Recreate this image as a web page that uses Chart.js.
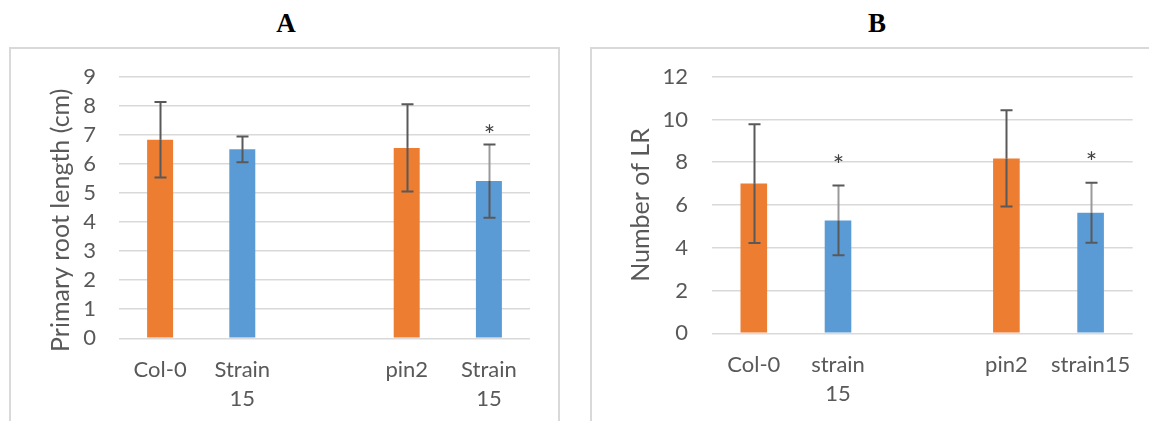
<!DOCTYPE html>
<html>
<head>
<meta charset="utf-8">
<title>Root length and lateral roots</title>
<script src="https://cdn.jsdelivr.net/npm/chart.js@4.4.0/dist/chart.umd.min.js"></script>
<style>
    html, body { margin: 0; padding: 0; background: #fff; }
    body { position: relative; width: 1149px; height: 421px; overflow: hidden; }
    .panel-title {
        position: absolute; top: 8px;
        font: bold 27px "Liberation Serif", "Times New Roman", serif;
        color: #000; transform: translateX(-50%);
    }
    .panel-box {
        position: absolute; top: 47px; height: 400px;
        border: 2px solid #d9d9d9;
    }
    canvas { position: absolute; top: 50px; }
</style>
</head>
<body>
<div class="panel-title" style="left:286px">A</div>
<div class="panel-title" style="left:877px">B</div>
<div class="panel-box" style="left:9px; width:547px"></div>
<div class="panel-box" style="left:590px; width:700px"></div>
<canvas id="chart-a" width="546" height="371" style="left:12px"></canvas>
<canvas id="chart-b" width="556" height="371" style="left:593px"></canvas>
<script>
// Panel A - primary root length
const categoriesA = ['Col-0', ['Strain', '15'], '', 'pin2', ['Strain', '15']];
const meansA = [6.83, 6.5, null, 6.55, 5.41];
const errorsA = [1.3, 0.44, null, 1.5, 1.26];
const starsA = [null, null, null, null, 7.17];

// Panel B - number of lateral roots
const categoriesB = ['Col-0', ['strain', '15'], '', 'pin2', 'strain15'];
const meansB = [7.0, 5.28, null, 8.18, 5.64];
const errorsB = [2.78, 1.63, null, 2.25, 1.4];
const starsB = [null, 8.1, null, null, 8.23];

const barColors = ['#ed7d31', '#5b9bd5', '#ed7d31', '#ed7d31', '#5b9bd5'];

const textColor = '#595959';
const gridColor = '#d9d9d9';

// Draws error bars and significance stars on top of the bars
const errorBarPlugin = {
    id: 'errorBars',
    afterDatasetsDraw(chart, args, opts) {
        const ctx = chart.ctx;
        const y = chart.scales.y;
        const meta = chart.getDatasetMeta(0);
        const means = chart.data.datasets[0].data;

        ctx.save();
        ctx.lineWidth = 2;
        meta.data.forEach(function(bar, i) {
            const v = means[i];
            const e = opts.errors[i];
            if (v == null) return;

            const xc = Math.round(bar.x) + 0.5;
            const yTop = y.getPixelForValue(v + e);
            const yBot = y.getPixelForValue(v - e);
            const yBar = y.getPixelForValue(v);

            // part above the bar is lighter where a star sits on it
            ctx.strokeStyle = opts.stars[i] != null ? '#9a9a9a' : '#595959';
            ctx.beginPath();
            ctx.moveTo(xc, yTop);
            ctx.lineTo(xc, yBar);
            ctx.stroke();

            ctx.strokeStyle = '#595959';
            ctx.beginPath();
            ctx.moveTo(xc, yBar);
            ctx.lineTo(xc, yBot);
            ctx.moveTo(xc - 6, yTop);
            ctx.lineTo(xc + 6, yTop);
            ctx.moveTo(xc - 6, yBot);
            ctx.lineTo(xc + 6, yBot);
            ctx.stroke();

            if (opts.stars[i] != null) {
                ctx.fillStyle = '#404040';
                ctx.font = '27px Lato, sans-serif';
                ctx.textAlign = 'center';
                ctx.textBaseline = 'alphabetic';
                ctx.fillText('*', xc, y.getPixelForValue(opts.stars[i]) + 15);
            }
        });
        ctx.restore();
    }
};

function buildChart(id, labels, means, errors, stars, cfg) {
    const ctx = document.getElementById(id).getContext('2d');
    return new Chart(ctx, {
        type: 'bar',
        data: {
            labels: labels,
            datasets: [{
                data: means,
                backgroundColor: barColors,
                borderWidth: 0,
                barPercentage: 0.316,
                categoryPercentage: 1
            }]
        },
        options: {
            responsive: false,
            animation: false,
            events: [],
            layout: {
                padding: { top: 26.7, right: cfg.padRight, bottom: 0, left: 0 }
            },
            scales: {
                x: {
                    grid: { display: false },
                    border: { display: false },
                    ticks: {
                        color: textColor,
                        font: { family: 'Lato', size: 22, lineHeight: 1.32 },
                        padding: 9,
                        maxRotation: 0,
                        autoSkip: false
                    },
                    afterFit: function(scale) {
                        scale.height = cfg.xHeight;
                        scale.paddingLeft = 0;
                        scale.paddingRight = 0;
                    }
                },
                y: {
                    min: 0,
                    max: cfg.max,
                    grid: { color: gridColor, lineWidth: 1.5, drawTicks: false },
                    border: { display: false },
                    ticks: {
                        stepSize: cfg.step,
                        autoSkip: false,
                        color: textColor,
                        font: { family: 'Lato', size: 22 },
                        padding: cfg.tickPad
                    },
                    title: {
                        display: true,
                        text: cfg.title,
                        color: textColor,
                        font: { family: 'Lato', size: 25 },
                        padding: { top: cfg.titlePad, bottom: 0 }
                    },
                    afterFit: function(scale) {
                        scale.width = cfg.yWidth;
                        scale.paddingTop = 0;
                        scale.paddingBottom = 0;
                    }
                }
            },
            plugins: {
                legend: { display: false },
                tooltip: { enabled: false },
                errorBars: { errors: errors, stars: stars }
            }
        },
        plugins: [errorBarPlugin]
    });
}

// trailing spaces push the title down a little, as in the original
buildChart('chart-a', categoriesA, meansA, errorsA, starsA, {
    max: 9, step: 1, title: 'Primary root length (cm)    ',
    yWidth: 107, tickPad: 23, titlePad: 34, padRight: 28, xHeight: 82.7
});

buildChart('chart-b', categoriesB, meansB, errorsB, starsB, {
    max: 12, step: 2, title: 'Number of LR',
    yWidth: 118.7, tickPad: 23.7, titlePad: 33, padRight: 16.3, xHeight: 87.7
});
</script>
</body>
</html>
